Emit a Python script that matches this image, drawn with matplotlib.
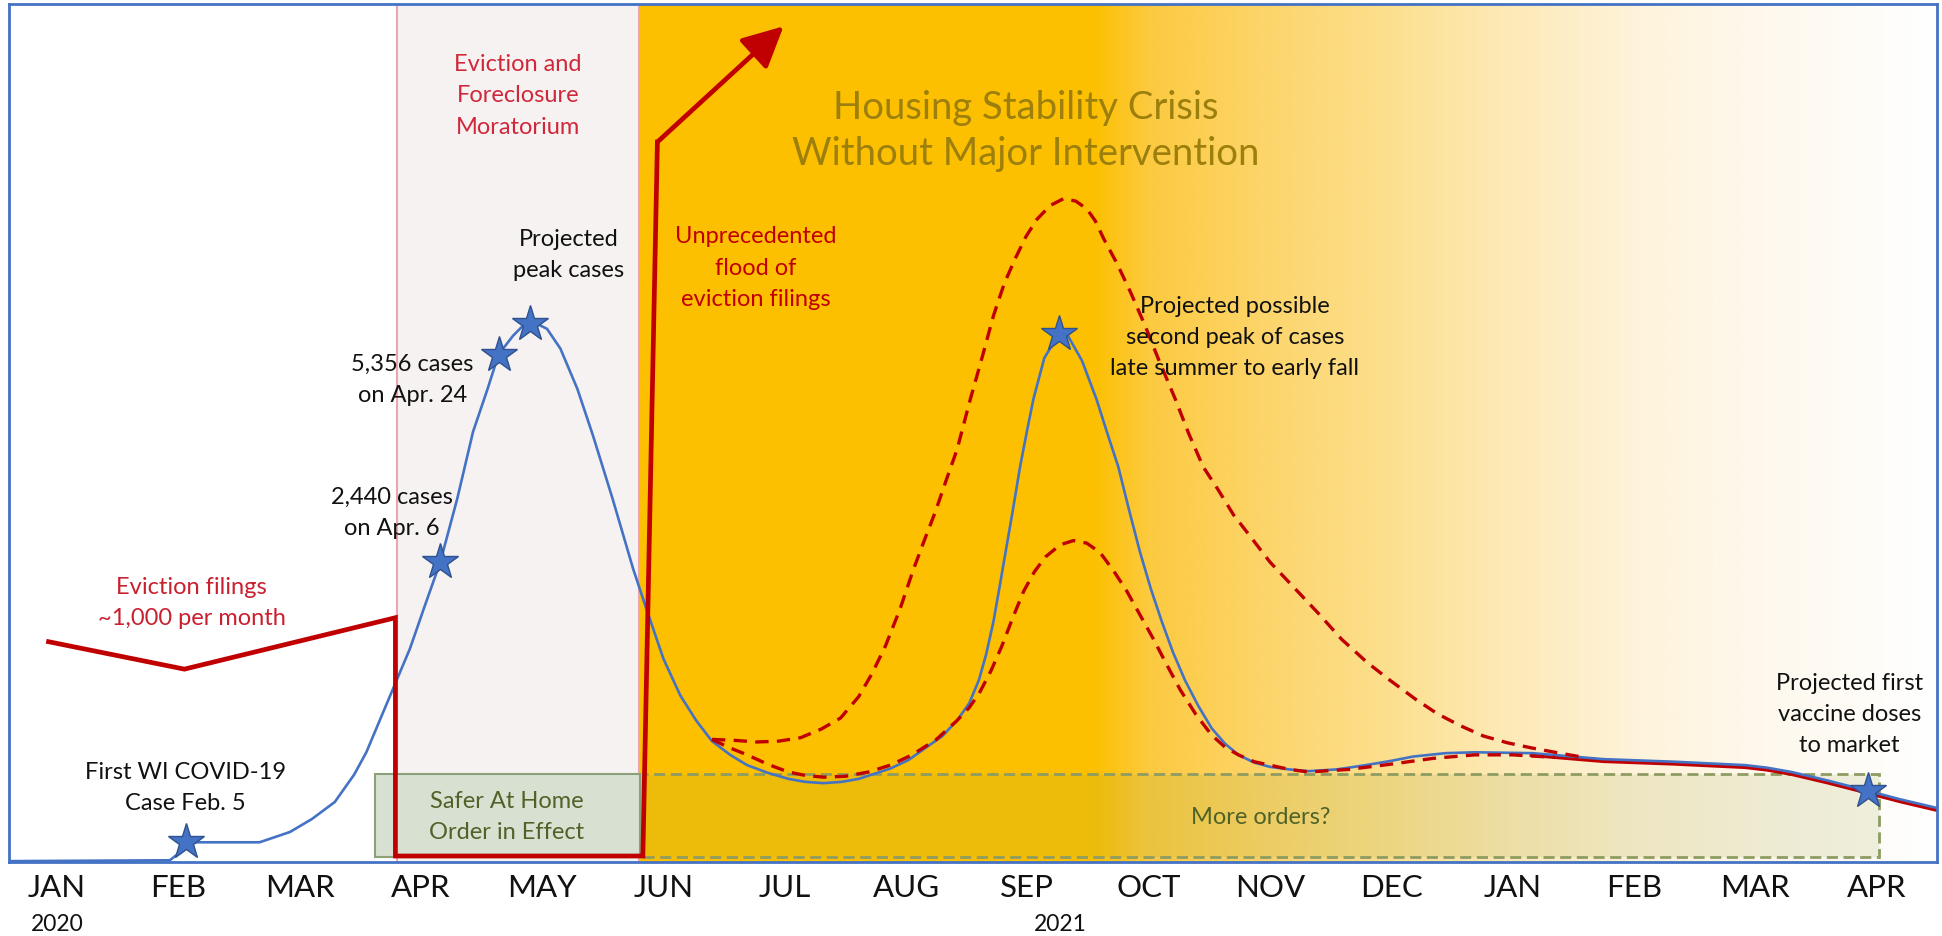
import numpy as np
import matplotlib
matplotlib.use('Agg')
import matplotlib.pyplot as plt
from matplotlib.patches import Rectangle
from matplotlib.colors import to_rgb

plt.rcParams['font.family'] = ['Lato', 'DejaVu Sans']

# x = months since Jan 2020, y = share of chart height (%)
months = ['JAN', 'FEB', 'MAR', 'APR', 'MAY', 'JUN', 'JUL', 'AUG',
          'SEP', 'OCT', 'NOV', 'DEC', 'JAN', 'FEB', 'MAR', 'APR']
years = ['2020', '2021']
year_x = [0.0, 8.27]

cases_x = [-0.40, 0.93, 1.02, 1.10, 1.67, 1.92, 2.10, 2.29, 2.45, 2.55, 2.66, 2.77,
           2.91, 3.03, 3.16, 3.30, 3.43, 3.55, 3.64, 3.76, 3.83, 3.90, 3.97, 4.04,
           4.15, 4.29, 4.42, 4.58, 4.75, 4.86, 5.00, 5.14, 5.27, 5.40, 5.55, 5.69,
           5.86, 6.03, 6.17, 6.32, 6.47, 6.61, 6.87, 7.02, 7.16, 7.30, 7.42, 7.52,
           7.60, 7.66, 7.72, 7.77, 7.82, 7.88, 7.94, 8.00, 8.05, 8.14, 8.26, 8.33,
           8.45, 8.57, 8.66, 8.75, 8.84, 8.93, 9.02, 9.11, 9.20, 9.30, 9.41, 9.52,
           9.63, 9.74, 9.87, 10.00, 10.16, 10.32, 10.55, 10.79, 11.00, 11.18, 11.45,
           11.69, 12.16, 12.75, 13.33, 13.92, 14.10, 14.30, 14.60, 14.93, 15.20, 15.50]
cases_y = [0.1, 0.2, 1.2, 2.3, 2.3, 3.5, 5.0, 7.0, 10.2, 12.8, 16.5, 20.2,
           24.9, 29.8, 35.0, 42.4, 50.2, 55.2, 59.2, 61.4, 62.4, 62.8, 62.7, 62.2,
           59.9, 55.2, 49.7, 42.4, 34.2, 29.5, 23.7, 19.4, 16.5, 14.1, 12.5, 11.3,
           10.4, 9.7, 9.35, 9.2, 9.35, 9.7, 10.9, 11.9, 13.3, 14.7, 16.5, 18.5,
           21.2, 24.2, 28.0, 32.0, 36.1, 41.0, 46.1, 50.5, 54.0, 58.8, 61.6, 61.5,
           58.5, 54.0, 50.0, 46.1, 41.0, 36.1, 31.8, 28.0, 24.5, 21.2, 18.2, 15.6,
           13.8, 12.5, 11.6, 11.1, 10.8, 10.6, 10.8, 11.3, 11.8, 12.3, 12.7,
           12.8, 12.7, 12.0, 11.7, 11.3, 11.0, 10.5, 9.5, 8.3, 7.3, 6.3]

star_x = [1.06, 3.16, 3.64, 3.90, 8.26, 14.93]
star_y = [2.3, 35.0, 59.2, 62.8, 61.6, 8.3]

high_x = [5.40, 5.58, 5.77, 5.95, 6.13, 6.30, 6.46, 6.61, 6.72, 6.83, 6.95, 7.06,
          7.15, 7.24, 7.33, 7.42, 7.53, 7.62, 7.72, 7.81, 7.90, 7.99, 8.08, 8.19,
          8.30, 8.40, 8.49, 8.56, 8.63, 8.74, 8.85, 8.97, 9.08, 9.22, 9.33, 9.45,
          9.57, 9.70, 9.81, 10.00, 10.20, 10.40, 10.59, 10.80, 10.99, 11.20, 11.38,
          11.57, 11.76, 11.96, 12.16, 12.35, 12.55]
high_y = [14.3, 14.2, 14.0, 14.1, 14.5, 15.5, 16.8, 19.3, 22.0, 25.2, 29.5, 34.1,
          37.5, 40.8, 44.5, 48.1, 54.0, 58.5, 63.7, 67.5, 70.4, 73.0, 75.0, 76.6,
          77.4, 77.1, 76.2, 74.8, 72.7, 69.8, 66.5, 62.6, 58.7, 54.0, 50.0, 46.1,
          43.5, 40.5, 38.5, 35.0, 32.0, 29.0, 26.0, 23.3, 21.2, 19.0, 17.3,
          15.9, 14.7, 13.9, 13.3, 12.8, 12.3]

low_x = [5.40, 5.55, 5.69, 5.86, 6.03, 6.17, 6.32, 6.50, 6.69, 6.87, 7.05, 7.25,
         7.42, 7.52, 7.60, 7.70, 7.79, 7.88, 7.97, 8.06, 8.15, 8.27, 8.38, 8.49,
         8.60, 8.71, 8.82, 8.93, 9.04, 9.15, 9.26, 9.39, 9.52, 9.63, 9.74, 9.87,
         10.00, 10.16, 10.32, 10.65, 10.99, 11.35, 11.69, 12.00, 12.35]
low_y = [14.3, 13.3, 12.5, 11.4, 10.5, 10.1, 9.9, 10.0, 10.5, 11.3, 12.5, 14.3,
         16.5, 18.0, 19.6, 22.3, 25.2, 28.5, 31.6, 33.9, 35.6, 37.0, 37.5, 37.2,
         36.1, 34.0, 31.6, 28.8, 26.0, 23.0, 20.1, 17.2, 14.8, 13.4, 12.5, 11.7,
         11.3, 10.8, 10.5, 10.8, 11.4, 12.1, 12.5, 12.5, 12.2]

tail_x = [12.16, 12.75, 13.33, 13.92, 14.10, 14.30, 14.60, 14.93, 15.20, 15.50]
tail_y = [12.5, 11.8, 11.5, 11.1, 10.8, 10.3, 9.3, 8.1, 7.1, 6.1]

evict_x = [-0.07, 1.05, 2.79, 2.79, 4.83, 4.95]
evict_y = [25.7, 22.5, 28.5, 0.7, 0.7, 84.0]
flood_tip = (5.99, 97.5)

moratorium = (2.80, 4.80)
safer_box = (2.62, 4.81)
more_box = (4.83, 15.02)
box_y = (0.6, 10.3)

BLUE = '#4472C4'
RED = '#C00000'

fig = plt.figure(figsize=(19.42, 9.37), dpi=100)
ax = fig.add_axes([9 / 1942, 1 - 863 / 937, 1928 / 1942, 858 / 937])
ax.set_xlim(-0.396, 15.50)
ax.set_ylim(0, 100.1)

# crisis background: solid orange fading to white
grad_pos = [4.80, 8.55, 9.0, 10.0, 11.0, 12.0, 13.0, 14.0, 15.5]
grad_col = ['#FDC000', '#FDC000', '#FCCA40', '#FCD56C', '#FCE08F', '#FDEAB8',
            '#FEF3DA', '#FEF8EC', '#FFFFFF']
gx = np.linspace(4.80, 15.5, 800)
rgb = np.array([to_rgb(c) for c in grad_col])
img = np.stack([np.interp(gx, grad_pos, rgb[:, i]) for i in range(3)], axis=-1)[None, :, :]
ax.imshow(img, extent=[4.80, 15.5, 0, 100.1], aspect='auto', zorder=0, interpolation='bilinear')

ax.axvspan(*moratorium, facecolor='#F7F2F2', edgecolor='none', zorder=0.5)
for xv in moratorium:
    ax.axvline(xv, color='#EBA5AE', lw=1.5, zorder=0.6)

ax.add_patch(Rectangle((safer_box[0], box_y[0]), safer_box[1] - safer_box[0], box_y[1] - box_y[0],
                       facecolor='#D8E0D2', edgecolor='#8CA07A', lw=1.5, zorder=1))
ax.add_patch(Rectangle((more_box[0], box_y[0]), more_box[1] - more_box[0], box_y[1] - box_y[0],
                       facecolor=(0.59, 0.63, 0.24, 0.15), edgecolor='#8E9C62', lw=2,
                       linestyle=(0, (4, 2)), zorder=1))

ax.plot(tail_x, tail_y, color=RED, lw=3.2, zorder=3)
ax.plot(cases_x, cases_y, color=BLUE, lw=1.9, zorder=4)
ax.plot(high_x, high_y, color=RED, lw=2.4, ls=(0, (4, 2.5)), zorder=4.5)
ax.plot(low_x, low_y, color=RED, lw=2.4, ls=(0, (4, 2.5)), zorder=4.5)
ax.plot(star_x, star_y, ls='none', marker='*', ms=27, color=BLUE,
        markeredgecolor='#2F528F', markeredgewidth=1, zorder=6)

ax.plot(evict_x, evict_y, color=RED, lw=3.4, zorder=5, solid_joinstyle='miter')
ax.annotate('', xy=flood_tip, xytext=(evict_x[-1], evict_y[-1]),
            arrowprops=dict(arrowstyle='-|>,head_length=1.0,head_width=0.5', color=RED,
                            lw=3.4, shrinkA=0, shrinkB=0, mutation_scale=25), zorder=5)

txt = dict(ha='center', va='center', fontsize=17, linespacing=1.6, zorder=7)
ax.text(3.80, 89.5, 'Eviction and\nForeclosure\nMoratorium', color='#D0283A', **txt)
ax.text(7.99, 85.4, 'Housing Stability Crisis\nWithout Major Intervention', color='#9C7F0C',
        ha='center', va='center', fontsize=27.5, linespacing=1.35, zorder=7)
ax.text(5.76, 69.4, 'Unprecedented\nflood of\neviction filings', color=RED, **txt)
ax.text(4.22, 70.9, 'Projected\npeak cases', color='#111111', **txt)
ax.text(2.93, 56.4, '5,356 cases\non Apr. 24', color='#111111', **txt)
ax.text(2.76, 40.8, '2,440 cases\non Apr. 6', color='#111111', **txt)
ax.text(1.11, 30.3, 'Eviction filings\n~1,000 per month', color='#C9202F', **txt)
ax.text(1.06, 8.75, 'First WI COVID-19\nCase Feb. 5', color='#111111', **txt)
ax.text(3.71, 5.4, 'Safer At Home\nOrder in Effect', color='#4F6228', **txt)
ax.text(9.92, 5.25, 'More orders?', color='#4F6228', **txt)
ax.text(9.71, 61.3, 'Projected possible\nsecond peak of cases\nlate summer to early fall',
        color='#111111', **txt)
ax.text(14.78, 17.3, 'Projected first\nvaccine doses\nto market', color='#111111', **txt)

ax.set_yticks([])
ax.set_xticks(range(len(months)))
ax.set_xticklabels(months, fontsize=22.5, color='#111111')
ax.tick_params(axis='x', length=0, pad=8)
for xv, yr in zip(year_x, years):
    ax.text(xv, -0.072, yr, transform=ax.get_xaxis_transform(), ha='center', va='center',
            fontsize=16.5, color='#111111')

for s in ax.spines.values():
    s.set_color(BLUE)
    s.set_linewidth(2)
    s.set_zorder(8)

fig.savefig('out.png', dpi=100)
